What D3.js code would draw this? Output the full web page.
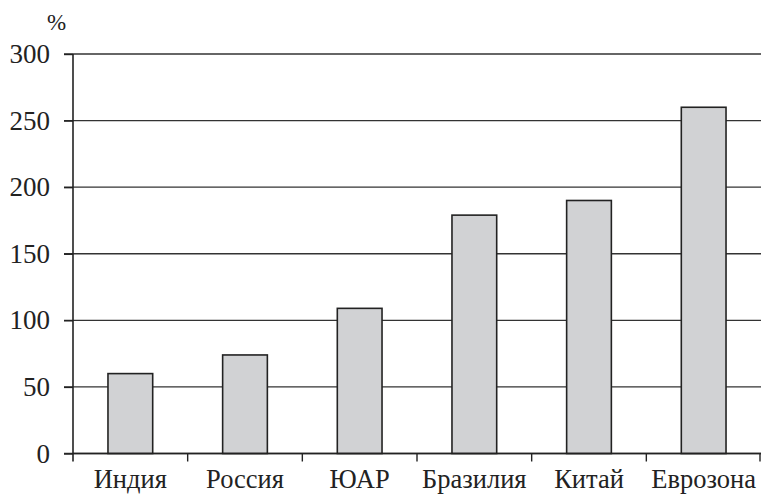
<!DOCTYPE html>
<html><head><meta charset="utf-8">
<script src="https://cdn.jsdelivr.net/npm/d3@7"></script>
<style>body{margin:0;background:#fff}svg{display:block}svg text{font-family:"Liberation Serif","Times New Roman",Times,serif}</style>
</head><body>
<script>
const categories = ["Индия","Россия","ЮАР","Бразилия","Китай","Еврозона"];
const values = [60, 74, 109, 179, 190, 260];
const yTicks = [0, 50, 100, 150, 200, 250, 300];
const unitLabel = "%";

const W = 761, H = 495;
const m = {left: 73, right: 0, top: 54, bottom: 41};
const svg = d3.select("body").append("svg").attr("width", W).attr("height", H);

const x = d3.scaleBand().domain(categories).range([m.left, W - m.right]).paddingInner(0.61).paddingOuter(0.305);
const y = d3.scaleLinear().domain([0, 300]).range([H - m.bottom - 0.5, m.top]);

// gridlines
svg.append("g").selectAll("line").data(yTicks).join("line")
  .attr("x1", m.left - 9).attr("x2", W)
  .attr("y1", d => y(d)).attr("y2", d => y(d))
  .attr("stroke", "#333").attr("stroke-width", 1.4);

// y axis
const yAxis = svg.append("g").attr("transform", `translate(${m.left},0)`)
  .call(d3.axisLeft(y).tickValues(yTicks).tickSize(9).tickPadding(14));
yAxis.attr("font-family", null);
yAxis.select(".domain").remove();
yAxis.selectAll("line").attr("stroke", "#222").attr("stroke-width", 1.4);
yAxis.selectAll("text").style("font-size", "27px").attr("fill", "#222");
svg.append("line").attr("x1", m.left).attr("x2", m.left)
  .attr("y1", y(300)).attr("y2", y(0) + 8).attr("stroke", "#222").attr("stroke-width", 1.6);

// bars
svg.append("g").selectAll("rect").data(values).join("rect")
  .attr("x", (d, i) => x(categories[i]))
  .attr("width", x.bandwidth())
  .attr("y", d => y(d))
  .attr("height", d => y(0) - y(d))
  .attr("fill", "#d1d2d4").attr("stroke", "#222").attr("stroke-width", 1.6);

// x axis
const xb = d3.scaleBand().domain(categories).range([m.left, W - m.right]);
const xAxisG = svg.append("g").attr("transform", `translate(0,${y(0)})`);
xAxisG.append("line").attr("x1", m.left).attr("x2", W).attr("y1", 0).attr("y2", 0)
  .attr("stroke", "#222").attr("stroke-width", 1.4);
const tickXs = categories.map(c => xb(c)).concat([xb(categories[categories.length-1]) + xb.bandwidth()]);
xAxisG.selectAll("line.tk").data(tickXs.slice(1)).join("line").attr("class", "tk")
  .attr("x1", d => Math.min(d, W - 1)).attr("x2", d => Math.min(d, W - 1))
  .attr("y1", 0).attr("y2", 8).attr("stroke", "#222").attr("stroke-width", 1.4);
xAxisG.selectAll("text").data(categories).join("text")
  .attr("x", d => xb(d) + xb.bandwidth() / 2)
  .attr("y", 34.5)
  .attr("text-anchor", "middle")
  .style("font-size", "26.5px").attr("fill", "#222")
  .text(d => d);

svg.append("text").attr("x", 56.5).attr("y", 30).attr("text-anchor", "middle")
  .style("font-size", "23px").attr("fill", "#222").text(unitLabel);
</script>
</body></html>
